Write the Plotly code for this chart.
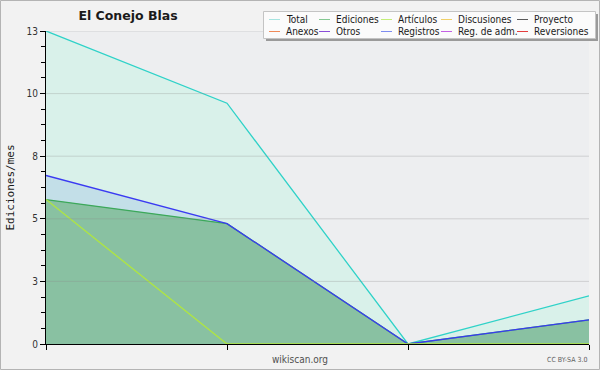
import plotly.graph_objects as go

# ---- data ----
x_idx = [0, 1, 2, 3]
total = [13, 10, 0, 2]
registros = [7, 5, 0, 1]
ediciones = [6, 5, 0, 1]
articulos = [6, 0, 0, 0]

y_tickvals = [0, 2.6, 5.2, 7.8, 10.4, 13]
y_ticktext = ["0", "3", "5", "8", "10", "13"]

legend_names = ["Total", "Ediciones", "Artículos", "Discusiones", "Proyecto",
                "Anexos", "Otros", "Registros", "Reg. de adm.", "Reversiones"]
legend_colors = ["#a6e4e0", "#84c892", "#c4ee78", "#f0d068", "#5a5a5a",
                 "#f08a58", "#8a4ed8", "#7e8cf0", "#c460e4", "#e43c3c"]

# ---- layout constants (pixels) ----
W, H = 600, 370
L, R, T, B = 46, 11, 31, 26
PW, PH = W - L - R, H - T - B


def px(xp):
    return (xp - L) / PW


def py(yp):
    return (H - B - yp) / PH


FONT = "DejaVu Sans Condensed, DejaVu Sans, sans-serif"

fig = go.Figure()

# fills (drawn beneath lines)
fills = [(total, "#d9f1ea"), (registros, "#c3dfe8"), (ediciones, "#89c1a2")]
for ys, fc in fills:
    fig.add_trace(go.Scatter(x=x_idx, y=ys, mode="lines", fill="tozeroy",
                             fillcolor=fc, line=dict(width=0), showlegend=False,
                             hoverinfo="skip"))

# lines
lines = [("Total", total, "#2fd2c8"), ("Ediciones", ediciones, "#3ca85a"),
         ("Registros", registros, "#3a3af2"), ("Artículos", articulos, "#b0e640")]
for name, ys, lc in lines:
    fig.add_trace(go.Scatter(x=x_idx, y=ys, mode="lines", name=name,
                             line=dict(color=lc, width=1.3), showlegend=False))

shapes = []
annotations = []

# outer border
shapes.append(dict(type="rect", xref="paper", yref="paper",
                   x0=px(0.5), x1=px(W - 0.5), y0=py(H - 0.5), y1=py(0.5),
                   line=dict(color="#b4b4b4", width=1), fillcolor="rgba(0,0,0,0)",
                   layer="above"))

# gridlines over the fills
for v in y_tickvals[1:]:
    shapes.append(dict(type="line", xref="paper", yref="y", x0=0, x1=1, y0=v, y1=v,
                       line=dict(color="rgba(140,140,140,0.3)", width=1), layer="above"))

# legend box with shadow
shapes.append(dict(type="rect", xref="paper", yref="paper",
                   x0=px(266), x1=px(598), y0=py(41), y1=py(14),
                   line=dict(width=0), fillcolor="#9a9a9a", layer="above"))
shapes.append(dict(type="rect", xref="paper", yref="paper",
                   x0=px(263.5), x1=px(595.5), y0=py(38.5), y1=py(11.5),
                   line=dict(color="#c4c4c4", width=1), fillcolor="#fbfbfb", layer="above"))

col_x = [285, 335, 397, 457, 533]
row_y = [19.5, 31.5]
for i, (nm, c) in enumerate(zip(legend_names, legend_colors)):
    tx = col_x[i % 5]
    ty = row_y[i // 5]
    shapes.append(dict(type="line", xref="paper", yref="paper",
                       x0=px(tx - 16), x1=px(tx - 5), y0=py(ty), y1=py(ty),
                       line=dict(color=c, width=1), layer="above"))
    annotations.append(dict(text=nm, xref="paper", yref="paper", x=px(tx - 1), y=py(ty),
                            xanchor="left", yanchor="middle", showarrow=False,
                            font=dict(family=FONT, size=10, color="#1a1a1a")))

annotations.append(dict(text="wikiscan.org", xref="paper", yref="paper",
                        x=px(300), y=py(359), xanchor="center", yanchor="middle",
                        showarrow=False, font=dict(family=FONT, size=10, color="#505050")))
annotations.append(dict(text="CC BY-SA 3.0", xref="paper", yref="paper",
                        x=px(589), y=py(360), xanchor="right", yanchor="middle",
                        showarrow=False, font=dict(family=FONT, size=7, color="#606060")))

fig.update_layout(
    width=W, height=H,
    margin=dict(l=L, r=R, t=T, b=B, pad=0, autoexpand=False),
    paper_bgcolor="#f2f2f2",
    plot_bgcolor="#edeef0",
    font=dict(family=FONT, size=10, color="#333333"),
    title=dict(text="<b>El Conejo Blas</b>", x=128 / W, xref="container", xanchor="center",
               y=1 - 16 / H, yref="container", yanchor="middle",
               font=dict(family="DejaVu Sans, sans-serif", size=12.5, color="#1a1a1a")),
    showlegend=False,
    shapes=shapes,
    annotations=annotations,
    xaxis=dict(range=[0, 3], tickvals=x_idx, showticklabels=False, ticks="outside",
               ticklen=5, tickcolor="#000000", showline=True, linecolor="#000000",
               linewidth=1, showgrid=False, zeroline=False, layer="above traces",
               fixedrange=True, automargin=False),
    yaxis=dict(range=[0, 13], tickvals=y_tickvals, ticktext=y_ticktext, ticks="outside",
               ticklen=5, tickcolor="#000000", showline=True, linecolor="#000000",
               linewidth=1, showgrid=False, zeroline=False, layer="above traces",
               tickfont=dict(family=FONT, size=10, color="#333333"),
               minor=dict(dtick=0.65, tick0=0, ticks="outside", ticklen=4,
                          tickcolor="#000000", showgrid=False),
               title=dict(text="Ediciones/mes", standoff=9,
                          font=dict(family="DejaVu Sans Mono, monospace", size=11,
                                    color="#1a1a1a")),
               fixedrange=True, automargin=False),
)

fig.write_html("out.html", config={"displayModeBar": False},
               post_script="document.body.style.margin='0';document.body.style.overflow='hidden';")
